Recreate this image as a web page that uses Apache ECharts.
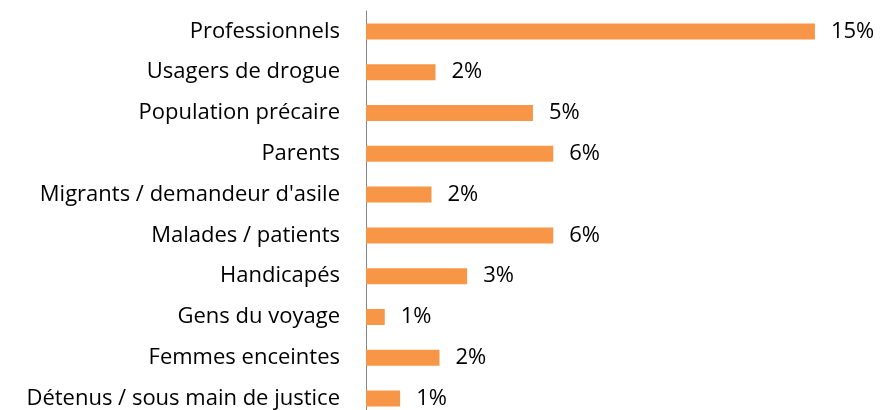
<!DOCTYPE html>
<html>
<head>
<meta charset="utf-8">
<script src="https://cdn.jsdelivr.net/npm/echarts@6/dist/echarts.min.js"></script>
<style>
  html, body { margin: 0; padding: 0; background: #fff; }
  #chart { width: 880px; height: 410px; }
</style>
</head>
<body>
<div id="chart"></div>
<script>
// catégories, de haut en bas
var categories = ['Professionnels', 'Usagers de drogue', 'Population précaire', 'Parents',
  'Migrants / demandeur d\'asile', 'Malades / patients', 'Handicapés', 'Gens du voyage',
  'Femmes enceintes', 'Détenus / sous main de justice'];
// valeurs en %
var values = [14.6, 2.26, 5.43, 6.09, 2.13, 6.09, 3.29, 0.61, 2.39, 1.11];

var myChart = echarts.init(document.getElementById('chart'));
var font = '"Open Sans", sans-serif';
var option = {
  animation: false,
  grid: { left: 366, right: 22, top: 11, height: 408, containLabel: false, outerBoundsMode: 'none' },
  xAxis: {
    type: 'value', min: 0, max: 16,
    show: false
  },
  yAxis: {
    type: 'category',
    data: categories,
    inverse: true,
    axisLine: { show: true, lineStyle: { color: '#868686', width: 1 } },
    axisTick: { show: false },
    axisLabel: { color: '#000', fontSize: 22, fontFamily: font, margin: 26 }
  },
  series: [{
    type: 'bar',
    data: values,
    barWidth: 16,
    itemStyle: { color: '#F79646' },
    label: {
      show: true, position: 'right', distance: 16,
      color: '#000', fontSize: 22, fontFamily: font,
      formatter: function (p) { return Math.round(p.value) + '%'; }
    }
  }]
};
option && myChart.setOption(option);
</script>
</body>
</html>
